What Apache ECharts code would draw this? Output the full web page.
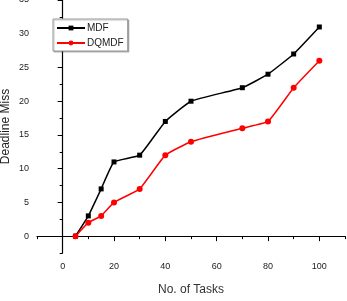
<!DOCTYPE html>
<html>
<head>
<meta charset="utf-8">
<script src="https://cdn.jsdelivr.net/npm/echarts@6/dist/echarts.min.js"></script>
<style>
  html, body { margin: 0; padding: 0; background: #fff; }
  #chart { width: 347px; height: 301px; }
</style>
</head>
<body>
<div id="chart"></div>
<script>
const tasks = [5, 10, 15, 20, 30, 40, 50, 70, 80, 90, 100];
const mdf = [0, 3, 7, 11, 12, 17, 20, 22, 24, 27, 31];
const dqmdf = [0, 2, 3, 5, 7, 12, 14, 16, 17, 22, 26];
const xTicks = [0, 20, 40, 60, 80, 100];
const xMinor = [-10, 10, 30, 50, 70, 90, 110];
const yTicks = [0, 5, 10, 15, 20, 25, 30, 35];
const yMinor = [-2.5, 2.5, 7.5, 12.5, 17.5, 22.5, 27.5, 32.5];

const chart = echarts.init(document.getElementById('chart'));

const font = 'Liberation Sans';
const axisLine = { show: true, lineStyle: { color: '#000', width: 1.2 } };

const option = {
  animation: false,
  grid: { left: 37, top: 0, right: 2, bottom: 48, outerBoundsMode: 'none', containLabel: false },
  legend: {
    left: 53, top: 19,
    orient: 'vertical',
    itemWidth: 28, itemHeight: 6, itemGap: 5,
    padding: [4, 4, 3, 3],
    borderColor: '#999', borderWidth: 1,
    shadowColor: 'rgba(0,0,0,0.25)', shadowOffsetX: 1, shadowOffsetY: 1, shadowBlur: 1,
    backgroundColor: '#fff',
    textStyle: { fontFamily: font, fontSize: 10, color: '#222', padding: [0, 0, 0, -3] },
    data: ['MDF', 'DQMDF']
  },
  xAxis: [
    {
      type: 'value', min: -10, max: 110,
      name: 'No. of Tasks', nameLocation: 'middle', nameGap: 31, nameMoveOverlap: false,
      nameTextStyle: { fontFamily: font, fontSize: 12, color: '#333' },
      axisLine: axisLine,
      splitLine: { show: false },
      axisTick: { show: true, customValues: xTicks, length: 5, lineStyle: { color: '#000' } },
      axisLabel: { customValues: xTicks, fontFamily: font, fontSize: 9, color: '#222', margin: 9 }
    },
    {
      type: 'value', min: -10, max: 110, position: 'bottom',
      axisLine: { show: false },
      splitLine: { show: false },
      axisTick: { show: true, customValues: xMinor, length: 3, lineStyle: { color: '#000' } },
      axisLabel: { show: false }
    }
  ],
  yAxis: [
    {
      type: 'value', min: -2.5, max: 35,
      name: 'Deadline Miss', nameLocation: 'middle', nameGap: 25, nameMoveOverlap: false,
      nameTextStyle: { fontFamily: font, fontSize: 12, color: '#222' },
      axisLine: axisLine,
      splitLine: { show: false },
      axisTick: { show: true, customValues: yTicks, length: 5, lineStyle: { color: '#000' } },
      axisLabel: {
        customValues: yTicks, fontFamily: font, fontSize: 9, color: '#222', margin: 8,
        verticalAlignMaxLabel: 'middle'
      }
    },
    {
      type: 'value', min: -2.5, max: 35, position: 'left',
      axisLine: { show: false },
      splitLine: { show: false },
      axisTick: { show: true, customValues: yMinor, length: 3, lineStyle: { color: '#000' } },
      axisLabel: { show: false }
    }
  ],
  series: [
    {
      name: 'MDF', type: 'line',
      data: tasks.map((t, i) => [t, mdf[i]]),
      smooth: 0.12,
      symbol: 'rect', symbolSize: 5,
      itemStyle: { color: '#000' },
      lineStyle: { color: '#000', width: 1.5 }
    },
    {
      name: 'DQMDF', type: 'line',
      data: tasks.map((t, i) => [t, dqmdf[i]]),
      smooth: 0.12,
      symbol: 'circle', symbolSize: 6,
      itemStyle: { color: '#f00' },
      lineStyle: { color: '#f00', width: 1.5 }
    }
  ]
};

chart.setOption(option);
</script>
</body>
</html>
